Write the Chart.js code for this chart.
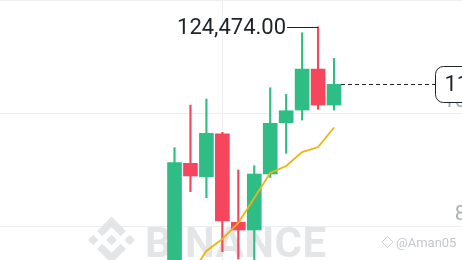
<!DOCTYPE html>
<html lang="en">
<head>
    <meta charset="UTF-8">
    <title>BTC/USDT 1M</title>
    <script src="https://cdn.jsdelivr.net/npm/chart.js"></script>
    <style>
        html, body {
            margin: 0;
            padding: 0;
            background-color: #fff;
        }
        body {
            width: 462px;
            height: 260px;
            overflow: hidden;
        }
        #wrap {
            width: 547px;
            height: 260px;
        }
    </style>
</head>
<body>
    <div id="wrap"><canvas id="kline" width="547" height="260"></canvas></div>

    <script>
        const months = ['2024-11', '2024-12', '2025-01', '2025-02', '2025-03', '2025-04',
                        '2025-05', '2025-06', '2025-07', '2025-08', '2025-09'];
        const opens  = [70200, 96330, 93570, 102430, 84180, 82590, 94130, 104700, 107310, 115760, 108340];
        const highs  = [99550, 108340, 109580, 102720, 94950, 95840, 111910, 110550, 123240, 124474, 117960];
        const lows   = [66800, 90480, 89250, 78120, 76600, 74430, 93400, 98390, 105250, 107460, 107310];
        const closes = [96460, 93720, 102510, 84450, 82590, 94130, 104570, 107170, 115760, 108340, 112610];
        const ma7    = [70000, 73300, 78270, 80740, 84040, 89190, 94340, 95780, 98660, 99690, 103710];
        const priceTicks = [83400, 106700, 130000];
        const timeGrid = [3];

        const UP = '#2EBD85';
        const DOWN = '#F6465D';
        const GRID = '#eceef1';
        const FONT = 'Roboto';

        const fmt = v => v.toLocaleString('en-US', { minimumFractionDigits: 2, maximumFractionDigits: 2 });
        const colors = months.map((m, i) => closes[i] >= opens[i] ? UP : DOWN);

        // binance logo, viewBox 126.61
        const logo = [
            [[38.73, 53.2], [63.31, 28.63], [87.9, 53.22], [102.2, 38.92], [63.31, 0], [24.42, 38.91]],
            [[0, 63.31], [14.3, 49.01], [28.6, 63.31], [14.3, 77.61]],
            [[48.8, 63.3], [63.32, 48.78], [77.83, 63.3], [63.32, 77.8]],
            [[98.01, 63.31], [112.31, 49.01], [126.61, 63.31], [112.31, 77.61]],
            [[38.73, 73.41], [63.31, 97.98], [87.9, 73.4], [102.21, 87.69], [63.31, 126.61], [24.42, 87.71]]
        ];

        const watermark = {
            id: 'watermark',
            beforeDatasetsDraw(chart) {
                const ctx = chart.ctx;
                ctx.save();
                ctx.fillStyle = '#e4e5e7';
                const s = 47 / 126.61;
                logo.forEach(poly => {
                    ctx.beginPath();
                    poly.forEach(([px, py], k) => {
                        const x = 88 + px * s, y = 216.5 + py * s;
                        k ? ctx.lineTo(x, y) : ctx.moveTo(x, y);
                    });
                    ctx.closePath();
                    ctx.fill();
                });
                ctx.font = `bold 42px ${FONT}`;
                ctx.letterSpacing = '0.5px';
                ctx.textBaseline = 'alphabetic';
                ctx.textAlign = 'left';
                ctx.fillText('BINANCE', 145, 256.5);
                ctx.letterSpacing = '0px';

                // small credit
                ctx.strokeStyle = '#cfd2d6';
                ctx.lineWidth = 1;
                ctx.beginPath();
                ctx.moveTo(387.5, 236.5); ctx.lineTo(393, 242); ctx.lineTo(387.5, 247.5); ctx.lineTo(382, 242);
                ctx.closePath();
                ctx.stroke();
                ctx.fillStyle = '#c4c7cb';
                ctx.font = `13px ${FONT}`;
                ctx.fillText('@Aman05', 396, 247);
                ctx.restore();
            }
        };

        const marks = {
            id: 'marks',
            afterDraw(chart) {
                const ctx = chart.ctx;
                const xs = chart.scales.x, ys = chart.scales.y;
                const area = chart.chartArea;
                ctx.save();

                // highest high label
                const hi = highs.indexOf(Math.max(...highs));
                const hx = xs.getPixelForValue(hi);
                const hy = Math.round(ys.getPixelForValue(highs[hi])) + 0.5;
                ctx.strokeStyle = '#1e2329';
                ctx.lineWidth = 1;
                ctx.beginPath();
                ctx.moveTo(hx - 31, hy);
                ctx.lineTo(hx, hy);
                ctx.stroke();
                ctx.fillStyle = '#1e2329';
                ctx.font = `22px ${FONT}`;
                ctx.textAlign = 'right';
                ctx.textBaseline = 'middle';
                ctx.fillText(fmt(highs[hi]), hx - 32, hy + 1);

                // last price line + box
                const last = closes.length - 1;
                const lx = xs.getPixelForValue(last) + 7;
                const ly = Math.round(ys.getPixelForValue(closes[last])) + 0.5;
                ctx.setLineDash([4, 3]);
                ctx.beginPath();
                ctx.moveTo(lx, ly);
                ctx.lineTo(area.right, ly);
                ctx.stroke();
                ctx.setLineDash([]);
                const bx = area.right + 0.5, bw = 130, bh = 36;
                ctx.beginPath();
                ctx.roundRect(bx, ly - bh / 2, bw, bh, 8);
                ctx.fillStyle = '#fff';
                ctx.fill();
                ctx.stroke();
                ctx.fillStyle = '#1e2329';
                ctx.textAlign = 'left';
                ctx.fillText(fmt(closes[last]), bx + 9, ly + 1);
                ctx.restore();
            }
        };

        new Chart(document.getElementById('kline').getContext('2d'), {
            type: 'bar',
            data: {
                datasets: [
                    {
                        type: 'line',
                        label: 'MA(7)',
                        data: months.map((m, i) => ({ x: i, y: ma7[i] })),
                        borderColor: '#EDB512',
                        borderWidth: 1.8,
                        pointRadius: 0,
                        tension: 0,
                        order: 0
                    },
                    {
                        label: 'body',
                        data: months.map((m, i) => ({ x: i, y: [opens[i], closes[i]] })),
                        backgroundColor: colors,
                        barThickness: 14,
                        grouped: false,
                        order: 1
                    },
                    {
                        label: 'wick',
                        data: months.map((m, i) => ({ x: i, y: [lows[i], highs[i]] })),
                        backgroundColor: colors,
                        barThickness: 1.5,
                        grouped: false,
                        order: 2
                    }
                ]
            },
            options: {
                responsive: false,
                animation: false,
                devicePixelRatio: 1,
                layout: { padding: 0 },
                plugins: {
                    legend: { display: false },
                    tooltip: { enabled: false }
                },
                scales: {
                    x: {
                        type: 'linear',
                        min: -10.94,
                        max: 16.33,
                        offset: false,
                        bounds: 'data',
                        afterBuildTicks: s => { s.ticks = timeGrid.map(v => ({ value: v })); },
                        afterFit: s => { s.height = 0; },
                        ticks: { display: false },
                        grid: { color: GRID, drawTicks: false, offset: false },
                        border: { display: false }
                    },
                    y: {
                        position: 'right',
                        min: 76400,
                        max: 130000,
                        afterBuildTicks: s => { s.ticks = priceTicks.map(v => ({ value: v })); },
                        afterFit: s => {
                            s.width = 112;
                            s.paddingTop = 0;
                            s.paddingBottom = 0;
                        },
                        grid: { color: GRID, drawTicks: true, tickLength: 112, tickColor: GRID },
                        border: { display: false },
                        ticks: {
                            font: { family: FONT, size: 21 },
                            color: '#a9aeb5',
                            crossAlign: 'far',
                            labelOffset: -11,
                            callback: v => fmt(v)
                        }
                    }
                }
            },
            plugins: [watermark, marks]
        });
    </script>
</body>
</html>
